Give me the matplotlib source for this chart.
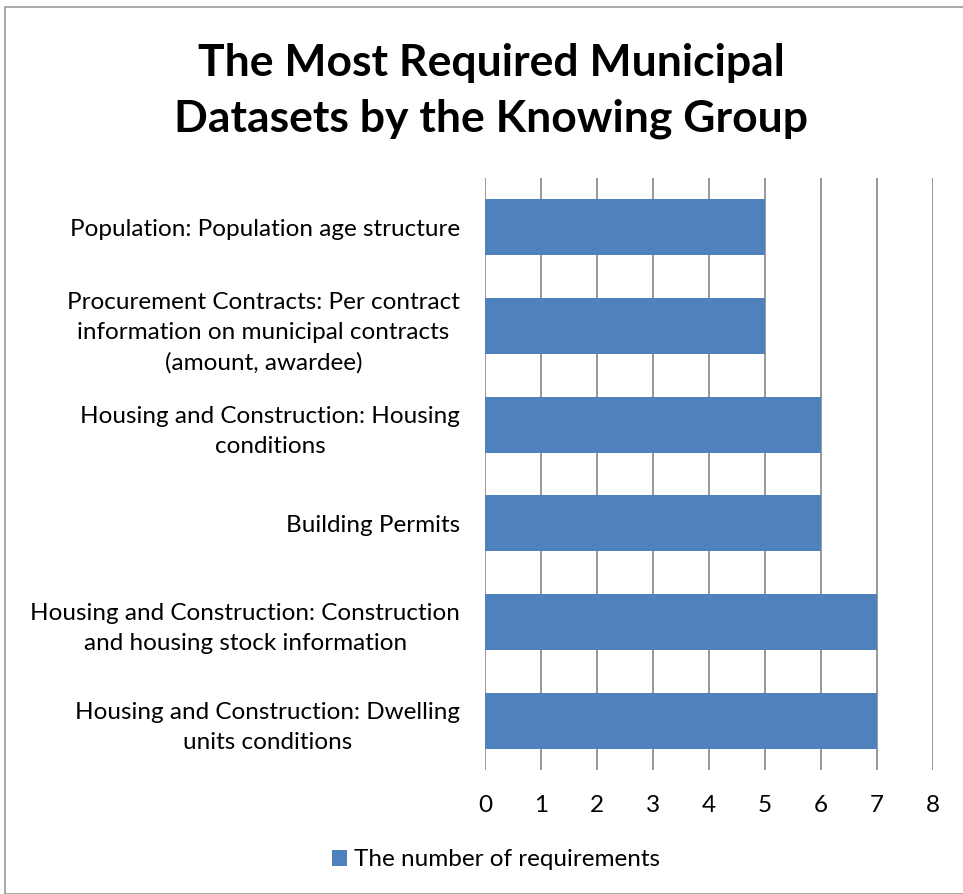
import matplotlib
matplotlib.use("Agg")
import matplotlib.pyplot as plt
from matplotlib.patches import Rectangle

# Data (top to bottom as shown in the chart)
categories = [
    "Population: Population age structure",
    "Procurement Contracts: Per contract\ninformation on municipal contracts\n(amount, awardee)",
    "Housing and Construction: Housing\nconditions",
    "Building Permits",
    "Housing and Construction: Construction\nand housing stock information",
    "Housing and Construction: Dwelling\nunits conditions",
]
requirements = [5, 5, 6, 6, 7, 7]
x_ticks = [0, 1, 2, 3, 4, 5, 6, 7, 8]
series_name = "The number of requirements"

plt.rcParams["font.family"] = ["Lato", "DejaVu Sans"]

W, H = 963, 894
fig = plt.figure(figsize=(W / 100, H / 100), dpi=100)
ax = fig.add_axes([485 / W, 1 - 770 / H, (933 - 485) / W, (770 - 178) / H])

bar_color = "#4F81BD"
pos = list(range(len(categories)))
ax.barh(pos, requirements, height=0.57, color=bar_color, zorder=3, label=series_name)
ax.set_ylim(len(categories) - 0.5, -0.5)
ax.set_xlim(0, 8)
ax.set_xticks(x_ticks)
ax.set_xticklabels([str(t) for t in x_ticks], fontsize=17.5)
ax.set_yticks(pos)
ax.set_yticklabels(categories, fontsize=17.5, ha="right", multialignment="center",
                   linespacing=1.55)

ax.tick_params(axis="both", length=0)
ax.tick_params(axis="x", pad=18)
ax.tick_params(axis="y", pad=18)
ax.grid(axis="x", color="#868686", linewidth=1.2, zorder=0)
for s in ax.spines.values():
    s.set_visible(False)

fig.text(491 / W, 1 - 91 / H, "The Most Required Municipal\nDatasets by the Knowing Group",
         ha="center", va="center", fontsize=32, fontweight="bold", linespacing=1.45)

fig.legend(loc="center", bbox_to_anchor=(496 / W, 1 - 860 / H), frameon=False,
           fontsize=17.5, handlelength=0.6, handleheight=0.6, handletextpad=0.3)

# chart border
fig.patches.append(Rectangle((5 / W, 0), 1.2, 1 - 7 / H, transform=fig.transFigure,
                             fill=False, edgecolor="#999999", linewidth=1.2))

fig.savefig("out.png", dpi=100)
